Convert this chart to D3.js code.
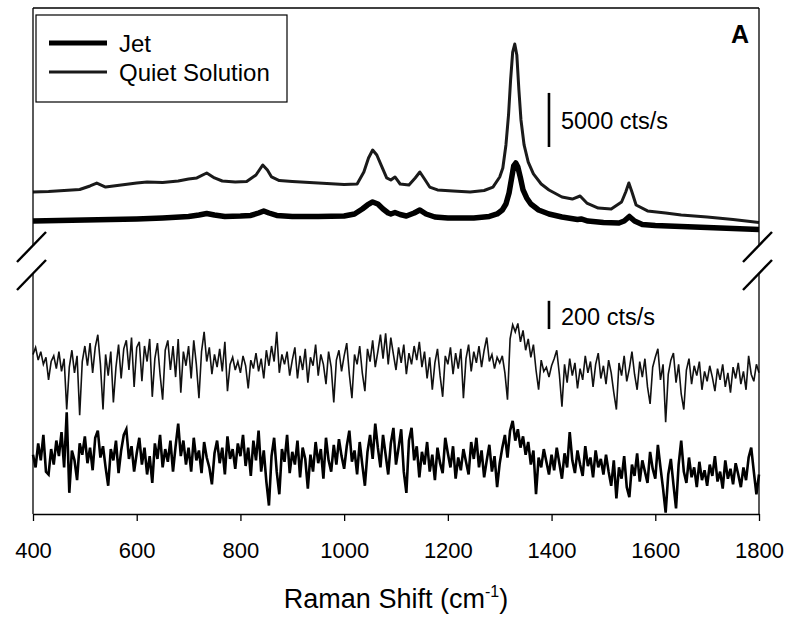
<!DOCTYPE html>
<html lang="en">
<head>
    <meta charset="UTF-8">
    <title>Raman Spectra - Jet vs Quiet Solution</title>
    <script src="https://d3js.org/d3.v7.min.js"></script>
    <style>
        body { margin: 0; background: white; font-family: "Liberation Sans", Arial, sans-serif; }
        .tick text { font-family: "Liberation Sans", Arial, sans-serif; }
    </style>
</head>
<body>
    <div id="chart"></div>
    <script>
        // Upper panel: full spectra (cts/s, offset)
        const jetShift = [400,450,500,550,600,650,700,720,735,750,770,800,820,835,845,855,870,900,950,1000,
            1020,1035,1045,1055,1065,1075,1085,1090,1098,1108,1120,1135,1146,1158,1175,1200,1250,1280,1295,1305,
            1312,1318,1323,1327,1331,1335,1340,1345,1352,1360,1375,1395,1420,1450,1457,1470,1500,1530,1540,1550,
            1560,1575,1600,1650,1700,1750,1800];
        const jetCounts = [2310,2360,2400,2450,2500,2590,2730,2870,3000,2870,2730,2770,2820,3050,3240,3050,2820,2730,2730,2770,
            2960,3420,3790,4070,3880,3420,3050,2960,3100,2910,2770,3050,3330,2960,2680,2590,2590,2730,2960,3330,
            3880,4900,6290,7400,7670,7300,6290,5180,4440,3880,3330,2960,2680,2450,2500,2310,2170,2130,2310,2730,
            2310,1990,1900,1800,1710,1620,1530];

        const quietShift = [400,430,460,490,510,523,540,570,600,620,650,680,700,716,735,750,765,790,812,830,
            843,852,860,875,900,950,1000,1025,1038,1047,1055,1063,1072,1082,1090,1098,1108,1125,1137,1146,
            1155,1165,1180,1210,1243,1270,1287,1300,1306,1312,1317,1321,1325,1329,1333,1337,1341,1347,1355,1365,
            1380,1395,1420,1440,1455,1468,1490,1515,1535,1543,1549,1555,1563,1585,1620,1650,1700,1750,1800];
        const quietCounts = [4990,5040,5130,5220,5550,5820,5450,5640,5820,5920,5870,6010,6190,6290,6750,6290,6010,5920,5960,6560,
            7490,7020,6380,6050,5960,5820,5690,5730,6840,8130,8870,8410,7400,6290,6100,6380,5730,5640,6290,6840,
            6190,5450,5180,5080,4990,5130,5450,6380,7210,9340,12110,15350,17930,18670,17660,14420,11650,9340,7760,6660,
            5730,5180,4530,4340,4620,3970,3510,3420,4070,4990,5820,4990,3790,3240,3050,2870,2680,2450,2170];

        // Lower panel: blank (background) spectra, 5 cm-1 steps from 400 to 1800
        const noiseStart = 400, noiseStep = 5;
        const quietNoise = [
            1130,1180,1090,1150,1060,1110,950,1080,1120,1030,1150,1010,1100,740,1040,1160,1000,1120,700,1080,
            1190,1050,1210,1000,1180,1270,1060,740,1130,980,1150,790,1040,1200,960,1170,1230,1020,1250,900,
            1180,1220,940,1190,1080,1240,830,1100,1210,990,810,1160,1230,1020,1190,970,1240,860,1150,1050,
            1190,960,1230,1060,820,1150,1290,1080,1180,990,1130,1040,1170,1010,1220,870,1060,1110,1020,1080,
            1000,1120,1050,890,1090,1030,1140,1010,1100,960,1160,1050,1190,1080,1290,1000,1130,1060,1150,980,
            1090,1180,960,1120,1020,1170,930,1110,1050,1200,980,1130,1060,920,1150,1040,790,1090,1160,1010,
            1120,1210,990,820,1130,1060,1190,1000,870,1170,1080,1230,1040,1150,1270,1100,1280,1060,1250,1130,
            1020,1180,1070,1200,990,1140,1060,1190,1090,1220,1040,1150,960,1110,880,1070,1170,980,830,1120,
            1060,1180,990,1140,1030,1170,820,1100,1200,1010,1150,1070,1190,1040,1160,1250,1080,1130,1030,1110,
            1070,1120,1000,810,1240,1340,1290,1350,1220,1300,1160,1240,1110,1200,1020,880,1090,1010,1040,970,
            1050,1100,1160,990,760,1060,930,1100,980,1070,890,1030,950,1120,1000,1080,900,1060,1140,960,
            1050,920,1090,1000,860,740,1070,980,1120,940,1030,1150,990,880,1080,970,1100,900,780,1040,
            1110,1170,950,1060,650,990,1090,1140,930,1060,850,740,1020,1100,920,1050,980,1080,880,1010,
            940,1050,970,870,1030,950,1060,900,1000,860,1040,960,1070,920,1010,880,1120,990,940,1060,
            1000];
        const jetNoise = [
            420,330,500,380,560,300,280,460,350,520,410,580,330,720,150,450,380,240,500,420,
            550,360,470,310,540,590,400,480,330,200,460,380,520,290,450,560,600,390,480,300,
            430,540,350,470,280,410,220,500,390,560,330,460,370,520,300,480,640,410,520,350,
            470,300,540,380,450,290,510,400,330,210,430,520,360,470,280,550,390,460,320,500,
            410,560,340,470,270,520,380,590,300,450,230,60,410,540,300,140,460,370,560,290,
            440,350,520,260,470,390,180,420,300,510,360,460,250,540,380,300,490,350,530,410,
            320,480,590,370,450,280,510,350,200,440,560,390,640,470,330,560,420,280,500,610,
            350,470,600,300,150,520,610,380,480,260,440,350,510,300,420,240,470,360,290,540,
            430,330,480,250,400,310,460,370,280,510,390,540,330,450,260,380,490,300,410,190,
            360,470,560,400,590,660,520,600,470,550,420,510,350,450,140,400,330,460,370,280,
            420,310,470,360,250,430,330,580,380,290,450,350,270,480,340,400,260,450,330,390,
            280,420,300,200,380,110,330,250,410,190,120,350,270,430,230,380,300,220,440,320,
            250,490,330,180,10,280,390,210,40,350,520,300,220,400,260,330,190,370,240,310,
            200,350,270,410,230,300,180,380,250,320,210,360,280,190,330,240,400,470,300,140,
            280];

        const xTicks = [400, 600, 800, 1000, 1200, 1400, 1600, 1800];
        const seriesNames = ["Jet", "Quiet Solution"];

        const width = 791, height = 620;
        const plot = { left: 33, right: 759, top: 8, bottom: 514 };
        const upperBottom = 246, lowerTop = 274;

        const svg = d3.select("#chart")
            .append("svg")
            .attr("width", width)
            .attr("height", height);

        const x = d3.scaleLinear().domain([400, 1800]).range([plot.left, plot.right]);
        const yUpper = d3.scaleLinear().domain([0, 22000]).range([upperBottom, plot.top]);
        const yLower = d3.scaleLinear().domain([0, 1700]).range([plot.bottom, lowerTop]);

        const toPoints = (xs, ys) => xs.map((s, i) => [s, ys[i]]);
        const noisePoints = arr => arr.map((v, i) => [noiseStart + i * noiseStep, v]);

        const upperLine = d3.line().x(d => x(d[0])).y(d => yUpper(d[1]));
        const lowerLine = d3.line().x(d => x(d[0])).y(d => yLower(d[1]));

        // upper spectra
        svg.append("path")
            .attr("d", upperLine(toPoints(quietShift, quietCounts)))
            .attr("fill", "none").attr("stroke", "#1a1a1a").attr("stroke-width", 3)
            .attr("stroke-linejoin", "round");
        svg.append("path")
            .attr("d", upperLine(toPoints(jetShift, jetCounts)))
            .attr("fill", "none").attr("stroke", "black").attr("stroke-width", 5.5)
            .attr("stroke-linejoin", "round");

        // lower spectra
        svg.append("path")
            .attr("d", lowerLine(noisePoints(quietNoise)))
            .attr("fill", "none").attr("stroke", "#111").attr("stroke-width", 1.6);
        svg.append("path")
            .attr("d", lowerLine(noisePoints(jetNoise)))
            .attr("fill", "none").attr("stroke", "black").attr("stroke-width", 2.6);

        // frame with broken axes
        const frame = svg.append("g").attr("stroke", "black").attr("stroke-width", 1.3);
        frame.append("line").attr("x1", plot.left).attr("x2", plot.right).attr("y1", plot.top).attr("y2", plot.top);
        [plot.left, plot.right].forEach(px => {
            frame.append("line").attr("x1", px).attr("x2", px).attr("y1", plot.top).attr("y2", upperBottom);
            frame.append("line").attr("x1", px).attr("x2", px).attr("y1", lowerTop).attr("y2", plot.bottom);
            // break marks
            [upperBottom, lowerTop].forEach(by => {
                svg.append("line")
                    .attr("x1", px - 16).attr("y1", by + 16)
                    .attr("x2", px + 13).attr("y2", by - 14)
                    .attr("stroke", "black").attr("stroke-width", 2.4);
            });
        });

        // x axis
        const xAxis = svg.append("g")
            .attr("transform", `translate(0,${plot.bottom})`)
            .call(d3.axisBottom(x).tickValues(xTicks).tickFormat(d3.format("d"))
                .tickSize(7).tickSizeOuter(0).tickPadding(21));
        xAxis.select(".domain").attr("stroke-width", 1.3);
        xAxis.selectAll(".tick line").attr("stroke-width", 1.3);
        xAxis.selectAll(".tick text").attr("font-size", 22).attr("fill", "black");

        const title = svg.append("text")
            .attr("x", (plot.left + plot.right) / 2)
            .attr("y", 608)
            .attr("text-anchor", "middle")
            .attr("font-size", 27);
        title.append("tspan").text("Raman Shift (cm");
        title.append("tspan").attr("font-size", 16).attr("dy", -11).text("-1");
        title.append("tspan").attr("dy", 11).text(")");

        // panel label
        svg.append("text")
            .attr("x", 749).attr("y", 43)
            .attr("text-anchor", "end")
            .attr("font-size", 25).attr("font-weight", "bold")
            .text("A");

        // scale bars
        const bars = [
            { scale: yUpper, from: 9150, len: 5000, at: 1395, label: "5000 cts/s", ty: 129 },
            { scale: yLower, from: 1310, len: 200, at: 1395, label: "200 cts/s", ty: 325 }
        ];
        bars.forEach(b => {
            svg.append("line")
                .attr("x1", x(b.at)).attr("x2", x(b.at))
                .attr("y1", b.scale(b.from)).attr("y2", b.scale(b.from + b.len))
                .attr("stroke", "black").attr("stroke-width", 2.6);
            svg.append("text")
                .attr("x", x(b.at) + 12).attr("y", b.ty)
                .attr("font-size", 23.5)
                .text(b.label);
        });

        // legend
        const legend = svg.append("g");
        legend.append("rect")
            .attr("x", 36).attr("y", 15).attr("width", 251).attr("height", 87)
            .attr("fill", "white").attr("stroke", "black").attr("stroke-width", 1.2);
        const legendStyle = [{ w: 5, c: "black" }, { w: 3, c: "#1a1a1a" }];
        seriesNames.forEach((name, i) => {
            const ly = 43 + i * 29;
            legend.append("line")
                .attr("x1", 49).attr("x2", 107).attr("y1", ly).attr("y2", ly)
                .attr("stroke", legendStyle[i].c).attr("stroke-width", legendStyle[i].w);
            legend.append("text")
                .attr("x", 119).attr("y", ly + 9)
                .attr("font-size", 24)
                .text(name);
        });
    </script>
</body>
</html>
